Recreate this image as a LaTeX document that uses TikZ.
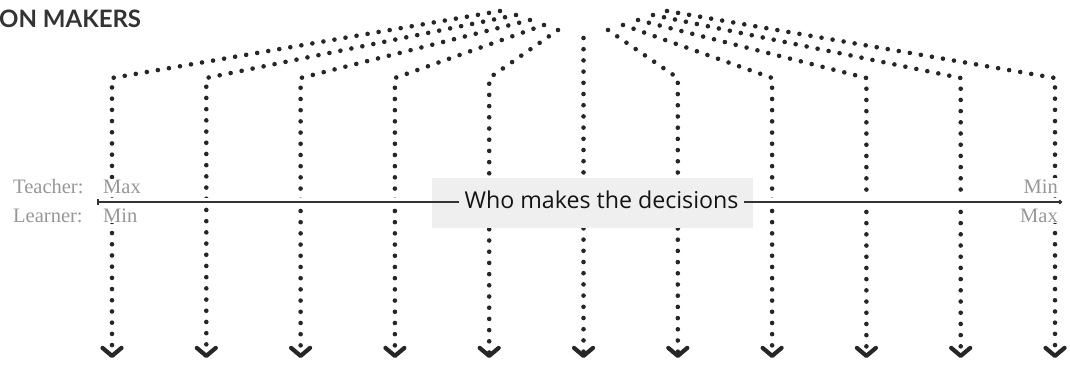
\documentclass[tikz,border=0pt]{standalone}
\usepackage{fontspec}
\usetikzlibrary{arrows.meta}
\newfontfamily\whofont{Open Sans}
\newfontfamily\serfont{Liberation Serif}
\newfontfamily\hdfont{Lato}
\definecolor{dotc}{HTML}{262626}
\definecolor{boxc}{HTML}{EFEFEF}
\definecolor{labc}{HTML}{979797}
\definecolor{linec}{HTML}{333333}
\begin{document}
\begin{tikzpicture}[x=1pt,y=-1pt,
  dotline/.style={draw=dotc, line width=4.6pt, line cap=round, line join=round,
     dash pattern=on 0pt off 11.2pt,
     -{Straight Barb[length=8pt,width=19pt,line width=4.2pt,round]}},
  lab/.style={font=\serfont\fontsize{20.5}{22}\selectfont, text=labc, inner sep=1pt},
  val/.style={lab, fill=white},
  hline/.style={draw=linec, line width=1.8pt, {Bar[width=6pt,line width=1.5pt]}-{Circle[length=4pt]}},
  whotext/.style={font=\whofont\fontsize{23.2}{26}\selectfont, text=black!92, fill=boxc, inner xsep=6pt, inner ysep=3pt},
  bgbox/.style={fill=boxc, draw=none, minimum width=321pt, minimum height=50pt, inner sep=0pt},
  header/.style={font=\hdfont\bfseries\fontsize{24}{26}\selectfont, text=black!80, inner sep=0pt}]
\useasboundingbox (0,0) rectangle (1070,365);
% columns
\foreach \i/\tx/\ty in {1/500/11, 2/516/15, 3/530/20, 4/544/25, 5/558/30,
                        7/608/30, 8/623/25, 9/638/20, 10/653/15, 11/667/11}{
  \pgfmathsetmacro{\cx}{112+94.3*(\i-1)}
  \coordinate (t\i) at (\tx,\ty);
  \coordinate (c\i) at (\cx,78);
  \coordinate (b\i) at (\cx,358);
  \draw[dotline] (t\i) -- (c\i) -- (b\i);
}
\coordinate (t6) at (583.5,38);
\coordinate (b6) at (583.5,358);
\draw[dotline] (t6) -- (b6);
% header
\node[header, anchor=base west] (hdr) at (-1,27.5) {ON MAKERS};
% axis
\coordinate (hl) at (97,202);
\coordinate (hr) at (1062,202);
\draw[white, line width=9pt] (hl) -- (hr);
\node[bgbox] (box) at (592.5,203) {};
\draw[hline] (hl) -- (hr);
\node[whotext, anchor=base] (who) at (601.5,208) {Who makes the decisions};
% labels
\node[lab, anchor=base west] (teach) at (12,193) {Teacher:};
\node[lab, anchor=base west] (learn) at (12,222) {Learner:};
\node[val, anchor=base west] (tmax) at (102,193) {Max};
\node[val, anchor=base west] (lmin) at (102,222) {Min};
\node[val, anchor=base east] (tmin) at (1059,193) {Min};
\node[val, anchor=base east] (lmax) at (1059,222) {Max};
\end{tikzpicture}
\end{document}
